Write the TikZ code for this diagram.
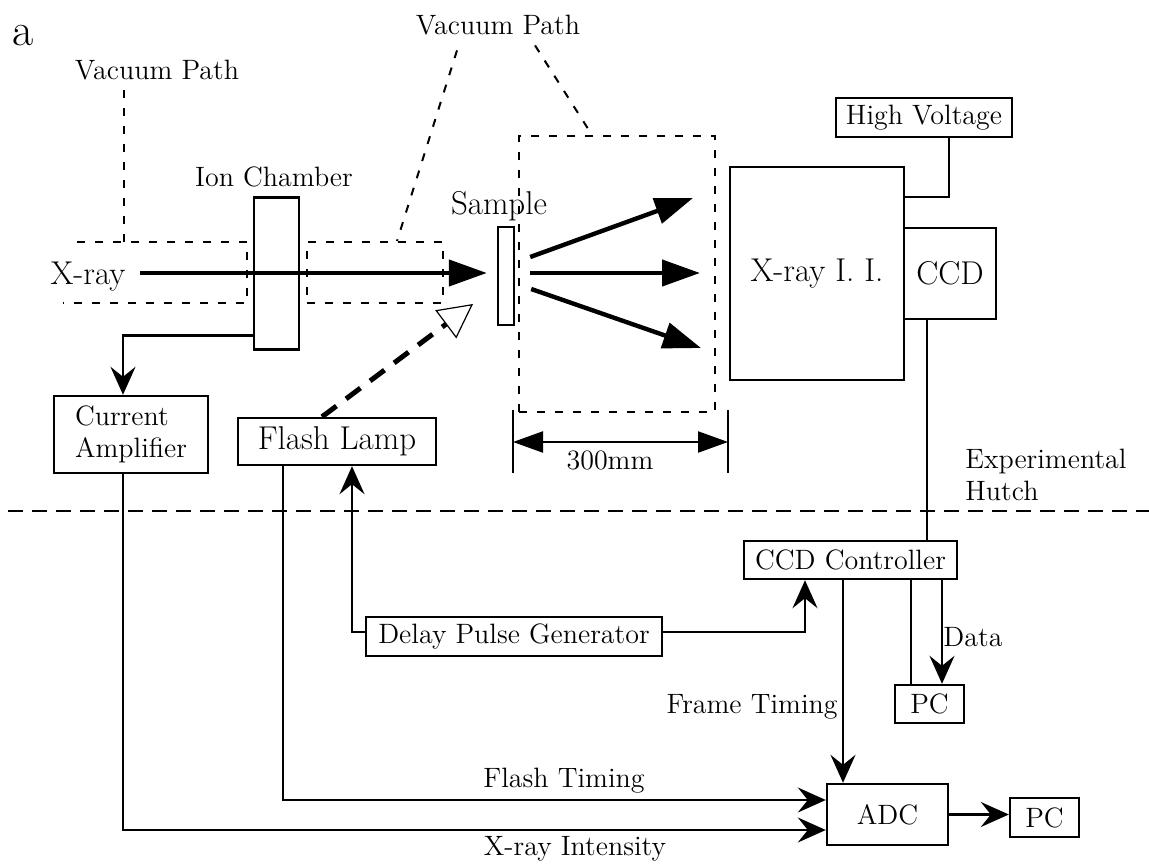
\documentclass[tikz,border=0pt]{standalone}
\usetikzlibrary{arrows.meta,positioning}
\newcommand\fsmall{\fontsize{14}{16}\selectfont}
\newcommand\flarge{\fontsize{16.5}{19}\selectfont}

\begin{document}
\begin{tikzpicture}
[
    % one unit = one pixel of the layout
    x=0.5pt, y=-0.5pt,
    box/.style={rectangle, draw, line width=1.2pt, inner sep=0pt, font=\fsmall},
    lbl/.style={inner sep=0pt, font=\fsmall},
    wire/.style={line width=1.2pt},
    sig/.style={wire, -{Stealth[length=14pt, width=12.5pt, inset=5pt]}},
    beam/.style={line width=2.2pt, -{Triangle[length=19pt, width=13pt]}},
    vac/.style={line width=1pt, dash pattern=on 4pt off 5pt}]
    \tikzstyle{every node}=[inner sep=0pt]
    \useasboundingbox[fill=white] (0,0) rectangle (1149,865);

    % labels
    \node[font=\fontsize{23}{25}\selectfont] (tag) at (23.5,36) {a};
    \node[lbl] (vp1) at (157,70) {Vacuum Path};
    \node[lbl] (vp2) at (498,25) {Vacuum Path};
    \node[lbl] (ionlbl) at (274,177) {Ion Chamber};
    \node[lbl, font=\flarge] (xray) at (88,277) {X-ray};
    \node[lbl, font=\flarge] (samplbl) at (499,206) {Sample};

    % vacuum paths
    \draw[vac] (77,242) -| (247,303) -- (63,303);
    \node[box, vac, minimum width=68pt, minimum height=30.5pt] (vbox2) at (375,272.5) {};
    \node[box, vac, minimum width=98pt, minimum height=138pt] (vbox3) at (617,274) {};
    \coordinate (v1top) at (124,242);
    \draw[vac] ([xshift=-16.5pt, yshift=-5pt]vp1.south) -- (v1top);
    \draw[vac] ([xshift=-20.5pt, yshift=-7.5pt]vp2.south) -- ([xshift=11pt]vbox2.north);
    \draw[vac] ([xshift=18.5pt, yshift=-5pt]vp2.south) -- ([xshift=-12.5pt]vbox3.north);

    % beam line
    \node[box, minimum width=22.5pt, minimum height=76pt] (ion) at (276.5,273.5) {};
    \node[box, minimum width=8pt, minimum height=49pt] (sample) at (506,276) {};
    \coordinate (beamin) at (140,273);
    \draw[beam, shorten >=5pt] (beamin) -- (beamin -| sample.west);
    \coordinate (d1) at (693,198);
    \coordinate (d2) at (700,273);
    \coordinate (d3) at (701,348);
    \draw[beam] ([xshift=7.5pt, yshift=9.5pt]sample.east) -- (d1);
    \draw[beam] ([xshift=7.5pt, yshift=1.5pt]sample.east) -- (d2);
    \draw[beam] ([xshift=8pt, yshift=-6.5pt]sample.east) -- (d3);

    % detector
    \node[box, font=\flarge, minimum width=87pt, minimum height=106.5pt] (ii) at (817,273.5) {X-ray I.\ I.};
    \node[box, font=\flarge, minimum width=46pt, minimum height=45.5pt] (ccd) at (950,273.5) {CCD};
    \node[box, minimum width=88pt, minimum height=19.5pt] (hv) at (924,117.5) {High Voltage};
    \draw[wire] ([xshift=12.5pt]hv.south) |- ([yshift=38.25pt]ii.east);

    % 300mm
    \draw[wire] (513,410) -- (513,473);
    \draw[wire] (728,410) -- (728,473);
    \coordinate (dl) at (513,442);
    \coordinate (dr) at (728,442);
    \draw[wire, {Triangle[length=15pt, width=10.5pt]}-{Triangle[length=15pt, width=10.5pt]}] (dl) -- (dr);
    \node[lbl] (mm) at (610,460) {300mm};

    % hutch wall
    \draw[wire, dash pattern=on 7.5pt off 4.5pt] (8,511) -- (1149,511);
    \node[lbl, align=left, anchor=west] (hutch) at (965,475) {Experimental\\Hutch};

    % electronics
    \node[box, align=left, minimum width=77pt, minimum height=38.5pt] (amp) at (131,434.5) {Current\\Amplifier};
    \node[box, font=\flarge, minimum width=99pt, minimum height=23.5pt] (flash) at (337,441.5) {Flash Lamp};
    \node[box, minimum width=106.5pt, minimum height=19pt] (ccdc) at (850.5,560) {CCD Controller};
    \node[box, minimum width=148pt, minimum height=19.5pt] (dpg) at (514,636.5) {Delay Pulse Generator};
    \node[box, minimum width=34.5pt, minimum height=19pt] (pc1) at (929.5,704) {PC};
    \node[box, minimum width=60.5pt, minimum height=30.5pt] (adc) at (887.5,814.5) {ADC};
    \node[box, minimum width=34.5pt, minimum height=19.5pt] (pc2) at (1044.5,817.5) {PC};

    \coordinate (lamptip) at (473,304);
    \draw[line width=2.5pt, dash pattern=on 9pt off 6pt,
        -{Triangle[open, length=17pt, width=17.5pt, line width=0.6pt]}]
        ([xshift=-7.5pt]flash.north) -- (lamptip);

    \draw[sig] ([yshift=7.5pt]ion.south west) -| ([xshift=-4pt]amp.north);
    \draw[sig] ([xshift=-4pt]amp.south) |- ([yshift=-7.75pt]adc.west);
    \draw[sig] ([xshift=-27pt]flash.south) |- ([yshift=7.25pt]adc.west);
    \draw[sig] ([yshift=2.25pt]dpg.west) -| ([xshift=7.5pt]flash.south);
    \draw[sig] ([yshift=2.25pt]dpg.east) -| ([xshift=-22.75pt]ccdc.south);
    \draw[wire] ([xshift=-11.5pt]ccd.south) -- ([xshift=-11.5pt]ccd.south |- ccdc.north);
    \draw[sig] ([xshift=-3.75pt]ccdc.south) -- ([xshift=-3.75pt]ccdc.south |- adc.north);
    \draw[wire] ([xshift=-9.25pt]pc1.north |- ccdc.south) -- ([xshift=-9.25pt]pc1.north);
    \draw[sig] ([xshift=6.25pt]pc1.north |- ccdc.south) -- ([xshift=6.25pt]pc1.north);
    \draw[sig] (adc.east) -- (adc.east -| pc2.west);

    \node[lbl, anchor=west] (datalbl) at (943,637) {Data};
    \node[lbl, anchor=east] (ftlbl) at (838,707) {Frame Timing};
    \node[lbl] (fllbl) at (564,781) {Flash Timing};
    \node[lbl] (xilbl) at (575,849) {X-ray Intensity};
\end{tikzpicture}
\end{document}
